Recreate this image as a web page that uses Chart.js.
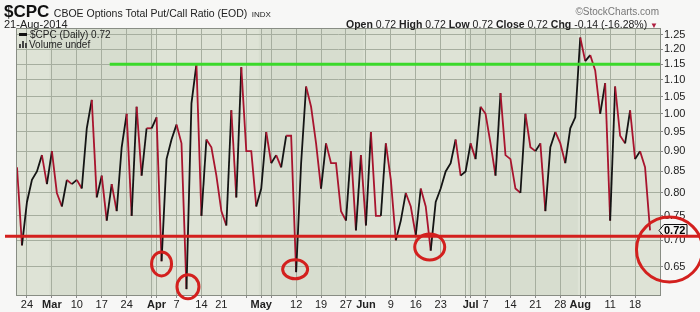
<!DOCTYPE html>
<html>
<head>
<meta charset="utf-8">
<script src="https://cdn.jsdelivr.net/npm/chart.js@4.4.0/dist/chart.umd.min.js"></script>
<style>
body { margin: 0; background: #f7f7f6; }
#wrap { position: relative; width: 700px; height: 312px; overflow: hidden; font-family: "Liberation Sans", Arial, sans-serif; }
#cpcChart { position: absolute; left: 0; top: 0; }
.txt { position: absolute; white-space: nowrap; color: #222; }
#ttl { left: 4px; top: 3px; line-height: 17px; }
#ttl .sym { font-size: 17px; font-weight: bold; color: #111; }
#ttl .nm { font-size: 10.5px; }
#ttl .ex { font-size: 8px; }
#dt { left: 4px; top: 19px; font-size: 11px; line-height: 11px; }
#quote { right: 42px; top: 19px; font-size: 10.5px; line-height: 11px; }
#quote .dn { color: #b02040; font-size: 8px; }
#credit { right: 41px; top: 6px; font-size: 10px; line-height: 11px; color: #777; }
#lg1, #lg2 { left: 19px; font-size: 10px; line-height: 10px; }
#lg1 { top: 30px; }
#lg2 { top: 40px; }
.dash { display: inline-block; width: 8px; height: 3px; background: #111; margin-right: 3px; vertical-align: 2px; }
.bars { display: inline-block; width: 8px; height: 7px; margin-right: 2px; position: relative; }
.bars i { position: absolute; bottom: 0; width: 2px; background: #444; }
</style>
</head>
<body>
<div id="wrap">
  <canvas id="cpcChart" width="700" height="312"></canvas>
  <div class="txt" id="ttl"><span class="sym">$CPC</span> <span class="nm">CBOE Options Total Put/Call Ratio (EOD)</span> <span class="ex">INDX</span></div>
  <div class="txt" id="dt">21-Aug-2014</div>
  <div class="txt" id="credit">©StockCharts.com</div>
  <div class="txt" id="quote"><b>Open</b> 0.72 <b>High</b> 0.72 <b>Low</b> 0.72 <b>Close</b> 0.72 <b>Chg</b> -0.14 (-16.28%) <span class="dn">▼</span></div>
  <div class="txt" id="lg1"><span class="dash"></span>$CPC (Daily) 0.72</div>
  <div class="txt" id="lg2"><span class="bars"><i style="left:0;height:4px"></i><i style="left:3px;height:7px"></i><i style="left:6px;height:5px"></i></span>Volume undef</div>
</div>
<script>
/* trading days, Feb 20 - Aug 21 2014 */
var monthNames = ['Feb', 'Mar', 'Apr', 'May', 'Jun', 'Jul', 'Aug'];
var febDays = [20, 21, 24, 25, 26, 27, 28];
var marDays = [3, 4, 5, 6, 7, 10, 11, 12, 13, 14, 17, 18, 19, 20, 21, 24, 25, 26, 27, 28, 31];
var aprDays = [1, 2, 3, 4, 7, 8, 9, 10, 11, 14, 15, 16, 17, 21, 22, 23, 24, 25, 28, 29, 30];
var mayDays = [1, 2, 5, 6, 7, 8, 9, 12, 13, 14, 15, 16, 19, 20, 21, 22, 23, 27, 28, 29, 30];
var junDays = [2, 3, 4, 5, 6, 9, 10, 11, 12, 13, 16, 17, 18, 19, 20, 23, 24, 25, 26, 27, 30];
var julDays = [1, 2, 3, 7, 8, 9, 10, 11, 14, 15, 16, 17, 18, 21, 22, 23, 24, 25, 28, 29, 30, 31];
var augDays = [1, 4, 5, 6, 7, 8, 11, 12, 13, 14, 15, 18, 19, 20, 21];

/* $CPC daily close */
var cpcClose = [
    0.86, 0.69, 0.78, 0.83, 0.85, 0.89, 0.82,
    0.90, 0.80, 0.77, 0.83, 0.82, 0.83, 0.81, 0.96, 1.04, 0.79, 0.84, 0.74, 0.82, 0.76, 0.91,
    1.00, 0.75, 1.02, 0.84, 0.96, 0.96,
    0.99, 0.66, 0.88, 0.93, 0.97, 0.92, 0.61, 1.03, 1.15, 0.75, 0.93, 0.91, 0.84, 0.76, 0.73,
    1.01, 0.79, 1.14, 0.90, 0.90, 0.77,
    0.81, 0.95, 0.87, 0.89, 0.86, 0.94, 0.94, 0.64, 0.87, 1.08, 1.02, 0.92, 0.81, 0.92, 0.87,
    0.87, 0.76, 0.74, 0.90, 0.72, 0.89,
    0.73, 0.95, 0.75, 0.75, 0.92, 0.83, 0.70, 0.74, 0.80, 0.77, 0.71, 0.81, 0.77, 0.68, 0.78,
    0.81, 0.85, 0.87, 0.93, 0.84, 0.85,
    0.92, 0.88, 1.02, 1.00, 0.92, 0.84, 1.06, 0.89, 0.88, 0.81, 0.80, 1.00, 0.91, 0.90, 0.92,
    0.76, 0.91, 0.95, 0.92, 0.87, 0.96, 0.99,
    1.24, 1.16, 1.18, 1.13, 1.00, 1.09, 0.74, 1.08, 0.94, 0.92, 1.01, 0.88, 0.90, 0.86, 0.72
];

/* weekly grid lines and their labels */
var axisDates = ['Feb 24', 'Mar 3', 'Mar 10', 'Mar 17', 'Mar 24', 'Mar 31', 'Apr 1', 'Apr 7', 'Apr 14', 'Apr 21',
    'Apr 28', 'May 1', 'May 5', 'May 12', 'May 19', 'May 27', 'Jun 2', 'Jun 9', 'Jun 16', 'Jun 23', 'Jun 30',
    'Jul 1', 'Jul 7', 'Jul 14', 'Jul 21', 'Jul 28', 'Aug 1', 'Aug 4', 'Aug 11', 'Aug 18'];
var axisText = ['24', 'Mar', '10', '17', '24', '', 'Apr', '7', '14', '21',
    '', 'May', '', '12', '19', '27', 'Jun', '9', '16', '23', '',
    'Jul', '7', '14', '21', '28', 'Aug', '', '11', '18'];
var yTickVals = [0.65, 0.70, 0.75, 0.80, 0.85, 0.90, 0.95, 1.00, 1.05, 1.10, 1.15, 1.20, 1.25];
var shadedMonths = ['Mar', 'May', 'Jul'];

/* hand drawn marks: levels, and rings as [index, value, rx, ry] */
var resistLevel = 1.15;
var resistStart = 18.6;
var supportLevel = 0.708;
var rings = [[29, 0.655, 10, 12], [34.3, 0.614, 11, 12], [55.8, 0.645, 12.5, 9.5], [82.8, 0.687, 15, 13], [130.9, 0.682, 33, 32.5]];

var tradeLabels = [];
[febDays, marDays, aprDays, mayDays, junDays, julDays, augDays].forEach(function (days, m) {
    days.forEach(function (d) { tradeLabels.push(monthNames[m] + ' ' + d); });
});
var xLabels = tradeLabels.concat(['', '']);

var tickTextByIdx = {};
axisDates.forEach(function (d, k) { tickTextByIdx[tradeLabels.indexOf(d)] = axisText[k]; });

var gridCol = '#a6ae9f';

var backPlugin = {
    id: 'backPlugin',
    beforeDraw: function (chart) {
        var ctx = chart.ctx, a = chart.chartArea, x = chart.scales.x;
        ctx.save();
        ctx.fillStyle = '#f7f7f6';
        ctx.fillRect(0, 0, chart.width, chart.height);
        ctx.fillStyle = '#dee3d6';
        ctx.fillRect(a.left, a.top, a.right - a.left, a.bottom - a.top);
        ctx.fillStyle = '#d7ddcf';
        shadedMonths.forEach(function (m) {
            var mon = tradeLabels.map(function (l) { return l.slice(0, 3); });
            var first = mon.indexOf(m), last = mon.lastIndexOf(m);
            var x0 = Math.max(a.left, x.getPixelForValue(first - 0.5));
            var x1 = Math.min(a.right, x.getPixelForValue(last + 0.5));
            ctx.fillRect(x0, a.top, x1 - x0, a.bottom - a.top);
        });
        ctx.restore();
    },
    afterDraw: function (chart) {
        var ctx = chart.ctx, a = chart.chartArea, x = chart.scales.x, y = chart.scales.y;
        ctx.save();
        ctx.strokeStyle = '#888d84';
        ctx.lineWidth = 1;
        ctx.strokeRect(a.left - 0.5, a.top - 0.5, a.right - a.left + 1, a.bottom - a.top + 1);
        /* last value marker */
        var last = cpcClose[cpcClose.length - 1];
        var ym = Math.round(y.getPixelForValue(last)) + 0.5;
        var xm = a.right - 1;
        ctx.beginPath();
        ctx.moveTo(xm, ym);
        ctx.lineTo(xm + 5, ym - 6);
        ctx.lineTo(xm + 28, ym - 6);
        ctx.lineTo(xm + 28, ym + 6);
        ctx.lineTo(xm + 5, ym + 6);
        ctx.closePath();
        ctx.fillStyle = '#f4f4f2';
        ctx.fill();
        ctx.strokeStyle = '#111';
        ctx.stroke();
        ctx.fillStyle = '#000';
        ctx.font = 'bold 11px "Liberation Sans", Arial, sans-serif';
        ctx.textBaseline = 'middle';
        ctx.fillText(last.toFixed(2), xm + 5, ym + 0.5);
        /* green level */
        var yg = y.getPixelForValue(resistLevel);
        ctx.strokeStyle = '#3bd92b';
        ctx.lineWidth = 3;
        ctx.beginPath();
        ctx.moveTo(x.getPixelForValue(resistStart), yg);
        ctx.lineTo(a.right, yg);
        ctx.stroke();
        /* red level */
        var yr = y.getPixelForValue(supportLevel);
        ctx.strokeStyle = '#d3201e';
        ctx.beginPath();
        ctx.moveTo(5, yr);
        ctx.lineTo(chart.width, yr);
        ctx.stroke();
        /* rings */
        rings.forEach(function (r) {
            ctx.beginPath();
            ctx.ellipse(x.getPixelForValue(r[0]), y.getPixelForValue(r[1]), r[2], r[3], 0, 0, Math.PI * 2);
            ctx.stroke();
        });
        ctx.restore();
    }
};

var chartDiv = document.getElementById('cpcChart');
var myChart = new Chart(chartDiv, {
    type: 'line',
    data: {
        labels: xLabels,
        datasets: [{
            data: cpcClose,
            borderColor: '#141414',
            borderWidth: 1.8,
            pointRadius: 0,
            tension: 0,
            segment: {
                borderColor: function (c) { return c.p1.parsed.y > c.p0.parsed.y ? '#141414' : '#a8142e'; }
            }
        }]
    },
    options: {
        responsive: false,
        devicePixelRatio: 1,
        animation: false,
        layout: { padding: { left: 17, top: 29, right: 0, bottom: 0 } },
        plugins: {
            legend: { display: false },
            tooltip: { enabled: false }
        },
        scales: {
            x: {
                type: 'category',
                offset: false,
                afterBuildTicks: function (scale) {
                    scale.ticks = axisDates.map(function (d) { return { value: tradeLabels.indexOf(d) }; });
                },
                afterFit: function (scale) { scale.height = 17; },
                grid: { color: gridCol, tickLength: 3, tickColor: '#888' },
                border: { color: '#888d84' },
                ticks: {
                    autoSkip: false,
                    maxRotation: 0,
                    padding: 0,
                    color: '#222',
                    font: function (c) {
                        var t = c.tick ? tickTextByIdx[c.tick.value] : '';
                        return { family: '"Liberation Sans", Arial, sans-serif', size: 11, weight: /^[A-Z]/.test(t || '') ? 'bold' : 'normal' };
                    },
                    callback: function (value) { return tickTextByIdx[value]; }
                }
            },
            y: {
                type: 'logarithmic',
                position: 'right',
                min: 0.6,
                max: 1.27,
                afterBuildTicks: function (scale) {
                    scale.ticks = yTickVals.map(function (v) { return { value: v }; });
                },
                afterFit: function (scale) { scale.width = 40; },
                grid: { color: gridCol, tickLength: 3, tickColor: '#888' },
                border: { color: '#888d84' },
                ticks: {
                    padding: 1,
                    color: '#222',
                    font: { family: '"Liberation Sans", Arial, sans-serif', size: 11 },
                    callback: function (v) { return Number(v).toFixed(2); }
                }
            }
        }
    },
    plugins: [backPlugin]
});
</script>
</body>
</html>
